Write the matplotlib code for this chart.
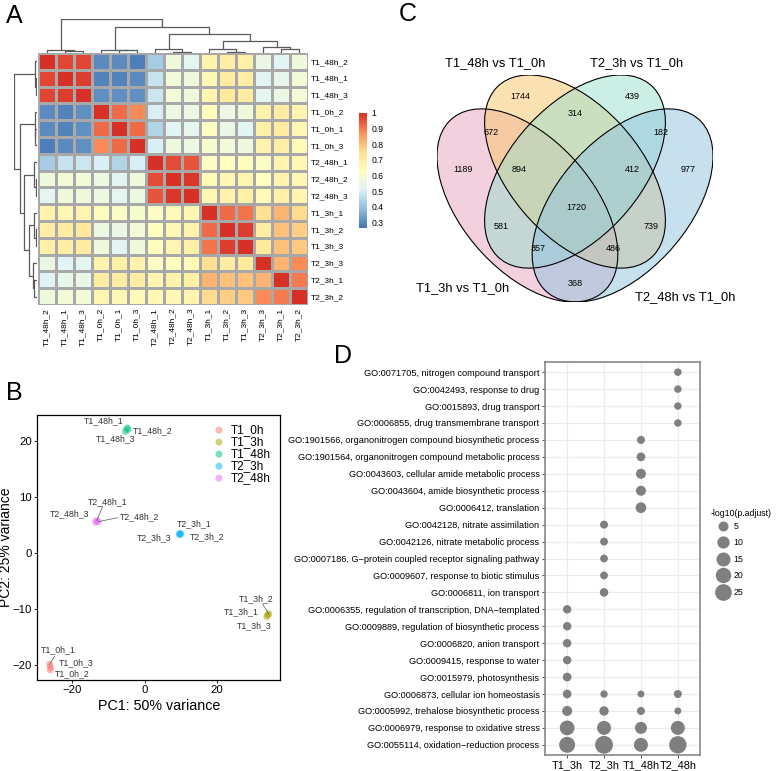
import numpy as np
import matplotlib.pyplot as plt
from matplotlib.patches import Ellipse
from matplotlib.colors import LinearSegmentedColormap
from matplotlib.lines import Line2D

W, H, DPI = 778, 771, 100
plt.rcParams['font.family'] = ['Liberation Sans', 'DejaVu Sans']

# ---------------- data ----------------
# A: sample correlation heatmap (display order of rows and columns)
samples = ['T1_48h_2', 'T1_48h_1', 'T1_48h_3', 'T1_0h_2', 'T1_0h_1', 'T1_0h_3',
           'T2_48h_1', 'T2_48h_2', 'T2_48h_3', 'T1_3h_1', 'T1_3h_2', 'T1_3h_3',
           'T2_3h_3', 'T2_3h_1', 'T2_3h_2']
corr = [
    [1.00, 0.97, 0.97, 0.30, 0.30, 0.28, 0.42, 0.57, 0.53, 0.68, 0.70, 0.69, 0.55, 0.52, 0.57],
    [0.97, 1.00, 0.98, 0.29, 0.29, 0.30, 0.47, 0.58, 0.57, 0.66, 0.71, 0.70, 0.52, 0.54, 0.58],
    [0.97, 0.98, 1.00, 0.31, 0.31, 0.31, 0.48, 0.58, 0.57, 0.67, 0.72, 0.71, 0.53, 0.55, 0.58],
    [0.30, 0.29, 0.31, 1.00, 0.92, 0.88, 0.50, 0.56, 0.56, 0.64, 0.56, 0.57, 0.68, 0.71, 0.67],
    [0.30, 0.29, 0.31, 0.92, 1.00, 0.92, 0.44, 0.52, 0.53, 0.62, 0.55, 0.52, 0.69, 0.71, 0.66],
    [0.28, 0.30, 0.31, 0.88, 0.92, 1.00, 0.50, 0.57, 0.56, 0.60, 0.58, 0.57, 0.68, 0.70, 0.65],
    [0.42, 0.47, 0.48, 0.50, 0.44, 0.50, 1.00, 0.96, 0.95, 0.62, 0.63, 0.64, 0.62, 0.67, 0.66],
    [0.57, 0.58, 0.58, 0.56, 0.52, 0.57, 0.96, 1.00, 0.99, 0.65, 0.66, 0.67, 0.63, 0.68, 0.66],
    [0.53, 0.57, 0.57, 0.56, 0.53, 0.56, 0.95, 0.99, 1.00, 0.66, 0.68, 0.69, 0.65, 0.69, 0.67],
    [0.68, 0.66, 0.67, 0.64, 0.62, 0.60, 0.62, 0.65, 0.66, 1.00, 0.92, 0.91, 0.75, 0.82, 0.76],
    [0.70, 0.71, 0.72, 0.56, 0.55, 0.58, 0.63, 0.66, 0.68, 0.92, 1.00, 0.98, 0.71, 0.80, 0.78],
    [0.69, 0.70, 0.71, 0.57, 0.52, 0.57, 0.64, 0.67, 0.69, 0.91, 0.98, 1.00, 0.72, 0.80, 0.79],
    [0.55, 0.52, 0.53, 0.68, 0.69, 0.68, 0.62, 0.63, 0.65, 0.75, 0.71, 0.72, 1.00, 0.82, 0.88],
    [0.52, 0.54, 0.55, 0.71, 0.71, 0.70, 0.67, 0.68, 0.69, 0.82, 0.80, 0.80, 0.82, 1.00, 0.90],
    [0.57, 0.58, 0.58, 0.67, 0.66, 0.65, 0.66, 0.66, 0.67, 0.76, 0.78, 0.79, 0.88, 0.90, 1.00],
]
# hierarchical clustering merges (child a, child b, height); ids >= 15 are earlier merges
merges = [(1, 2, 1.7), (0, 15, 2.7), (4, 5, 2.7), (3, 17, 3.3), (7, 8, 1.0), (6, 19, 4.3),
          (10, 11, 1.0), (9, 21, 4.3), (13, 14, 4.3), (12, 23, 6.0), (22, 24, 12.0),
          (20, 25, 19.3), (18, 26, 26.0), (16, 27, 34.3)]
cbar_ticks = [0.3, 0.4, 0.5, 0.6, 0.7, 0.8, 0.9, 1.0]

# B: PCA
groups = ['T1_0h', 'T1_3h', 'T1_48h', 'T2_3h', 'T2_48h']
group_colors = ['#F8766D', '#A3A500', '#00BF7D', '#00B0F6', '#E76BF3']
pca_names = ['T1_0h_1', 'T1_0h_2', 'T1_0h_3', 'T1_3h_1', 'T1_3h_2', 'T1_3h_3',
             'T1_48h_1', 'T1_48h_2', 'T1_48h_3', 'T2_3h_1', 'T2_3h_2', 'T2_3h_3',
             'T2_48h_1', 'T2_48h_2', 'T2_48h_3']
pca_group = [0, 0, 0, 1, 1, 1, 2, 2, 2, 3, 3, 3, 4, 4, 4]
pc1 = [-26.2, -26.0, -26.0, 34.0, 34.3, 33.8, -4.8, -4.6, -5.3, 9.8, 10.0, 9.6, -13.2, -12.8, -13.5]
pc2 = [-19.8, -20.8, -20.3, -11.0, -10.8, -11.3, 22.3, 22.0, 21.7, 3.5, 3.4, 3.3, 5.8, 5.6, 5.5]
# repelled label positions (data units)
lab_x = [-23.8, -19.9, -19.0, 26.8, 30.7, 30.2, -11.4, 2.3, -7.9, 13.7, 17.3, 2.6, -10.3, -1.5, -20.6]
lab_y = [-17.25, -21.5, -19.5, -10.5, -8.2, -13.0, 23.5, 21.8, 20.3, 5.3, 3.0, 2.75, 9.2, 6.5, 7.0]
# samples whose label is tied to the point by a segment: (index, segment start)
seg_from = [(0, -24.9, -18.4), (4, 32.6, -9.1), (12, -11.6, 8.3), (13, -7.5, 6.3)]

# C: Venn
venn_sets = ['T1_3h vs T1_0h', 'T1_48h vs T1_0h', 'T2_3h vs T1_0h', 'T2_48h vs T1_0h']
venn_fill = ['#E7A3BF', '#FBC569', '#99DFCD', '#91C3DF']
venn_counts = [1744, 439, 314, 672, 182, 1189, 894, 412, 977, 1720, 581, 739, 357, 486, 368]
venn_pos = [(0.327, 0.793), (0.680, 0.793), (0.500, 0.740), (0.235, 0.684), (0.772, 0.684),
            (0.147, 0.575), (0.324, 0.575), (0.680, 0.575), (0.857, 0.575), (0.503, 0.463),
            (0.267, 0.407), (0.740, 0.407), (0.384, 0.342), (0.620, 0.342), (0.500, 0.241)]

# D: GO enrichment dot plot, -log10(p.adjust) (nan = not enriched)
conditions = ['T1_3h', 'T2_3h', 'T1_48h', 'T2_48h']
go_terms = [
    'GO:0071705, nitrogen compound transport',
    'GO:0042493, response to drug',
    'GO:0015893, drug transport',
    'GO:0006855, drug transmembrane transport',
    'GO:1901566, organonitrogen compound biosynthetic process',
    'GO:1901564, organonitrogen compound metabolic process',
    'GO:0043603, cellular amide metabolic process',
    'GO:0043604, amide biosynthetic process',
    'GO:0006412, translation',
    'GO:0042128, nitrate assimilation',
    'GO:0042126, nitrate metabolic process',
    'GO:0007186, G\u2212protein coupled receptor signaling pathway',
    'GO:0009607, response to biotic stimulus',
    'GO:0006811, ion transport',
    'GO:0006355, regulation of transcription, DNA\u2212templated',
    'GO:0009889, regulation of biosynthetic process',
    'GO:0006820, anion transport',
    'GO:0009415, response to water',
    'GO:0015979, photosynthesis',
    'GO:0006873, cellular ion homeostasis',
    'GO:0005992, trehalose biosynthetic process',
    'GO:0006979, response to oxidative stress',
    'GO:0055114, oxidation\u2212reduction process',
]
n = np.nan
enrich = [
    [n, n, n, 1.4], [n, n, n, 1.4], [n, n, n, 1.4], [n, n, n, 1.4],
    [n, n, 2.0, n], [n, n, 2.9, n], [n, n, 5.0, n], [n, n, 5.0, n], [n, n, 6.3, n],
    [n, 2.0, n, n], [n, 1.8, n, n], [n, 1.7, n, n], [n, 1.8, n, n], [n, 2.6, n, n],
    [2.5, n, n, n], [2.5, n, n, n], [2.5, n, n, n], [2.5, n, n, n], [2.9, n, n, n],
    [2.9, 1.3, 0.9, 2.0],
    [5.0, 3.9, 2.0, 0.9],
    [17.5, 15.0, 9.4, 15.0],
    [22.0, 30.0, 15.0, 28.0],
]
size_breaks = [5, 10, 15, 20, 25]


def box(x0, y0, x1, y1):
    return [x0 / W, 1 - y1 / H, (x1 - x0) / W, (y1 - y0) / H]


def fx(x):
    return x / W


def fy(y):
    return 1 - y / H


def dendro_segments(merges, leaf_pos):
    pos = {i: p for i, p in enumerate(leaf_pos)}
    hgt = {i: 0.0 for i in range(len(leaf_pos))}
    segs = []
    for k, (a, b, h) in enumerate(merges):
        segs.append(([pos[a], pos[a], pos[b], pos[b]], [hgt[a], h, h, hgt[b]]))
        pos[len(leaf_pos) + k] = (pos[a] + pos[b]) / 2
        hgt[len(leaf_pos) + k] = h
    return segs


fig = plt.figure(figsize=(W / DPI, H / DPI), dpi=DPI)

# ---------------- A: heatmap ----------------
cmap = LinearSegmentedColormap.from_list(
    'rdylbu', ['#4575B4', '#91BFDB', '#E0F3F8', '#FFFFBF', '#FEE090', '#FC8D59', '#D73027'])
vmin, vmax = 0.265, 1.0
nS = len(samples)
axh = fig.add_axes(box(38, 53, 308, 305))
axh.pcolormesh(np.arange(nS + 1), np.arange(nS + 1), np.array(corr), cmap=cmap,
               vmin=vmin, vmax=vmax, edgecolors='#A8A8A8', linewidth=0.8)
axh.set_xlim(0, nS)
axh.set_ylim(nS, 0)
for s in axh.spines.values():
    s.set_visible(False)
axh.set_xticks(np.arange(nS) + 0.5)
axh.set_xticklabels(samples, rotation=90, fontsize=6.0)
axh.set_yticks(np.arange(nS) + 0.5)
axh.set_yticklabels(samples, fontsize=6.0)
axh.yaxis.tick_right()
axh.tick_params(length=0, pad=2)

segs = dendro_segments(merges, list(np.arange(nS) + 0.5))
axc = fig.add_axes(box(38, 19, 308, 53))
axr = fig.add_axes(box(14, 53, 37, 305))
for xs, ys in segs:
    axc.plot(xs, ys, color='#5A5A5A', lw=0.9, solid_capstyle='butt')
    axr.plot(ys, xs, color='#5A5A5A', lw=0.9, solid_capstyle='butt')
axc.set_xlim(0, nS)
axc.set_ylim(0, 34.6)
axr.set_ylim(nS, 0)
axr.set_xlim(34.6, 0)
for a in (axc, axr):
    a.axis('off')

axcb = fig.add_axes(box(359, 113, 367, 228))
grad = np.linspace(vmin, vmax, 200).reshape(-1, 1)
axcb.imshow(grad, cmap=cmap, vmin=vmin, vmax=vmax, aspect='auto', origin='lower',
            extent=[0, 1, vmin, vmax])
axcb.set_xticks([])
axcb.yaxis.tick_right()
axcb.set_yticks(cbar_ticks)
axcb.set_yticklabels([f'{t:g}' for t in cbar_ticks], fontsize=6.2)
axcb.tick_params(length=0, pad=3)
for s in axcb.spines.values():
    s.set_visible(False)

# ---------------- B: PCA ----------------
axp = fig.add_axes(box(37, 415, 280, 680))
for g, (name, col) in enumerate(zip(groups, group_colors)):
    idx = [i for i, k in enumerate(pca_group) if k == g]
    axp.scatter([pc1[i] for i in idx], [pc2[i] for i in idx], s=26, color=col,
                alpha=0.5, edgecolors='none', label=name)
for i, sx, sy in seg_from:
    axp.plot([sx, pc1[i]], [sy, pc2[i]], color='#555555', lw=0.5)
for i, name in enumerate(pca_names):
    axp.text(lab_x[i], lab_y[i], name, fontsize=6.3, ha='center', va='center', color='#333333')
axp.set_xlim(-29.7, 37.4)
axp.set_ylim(-22.6, 24.6)
axp.set_xticks([-20, 0, 20])
axp.set_yticks([-20, -10, 0, 10, 20])
axp.tick_params(labelsize=8.2, length=2.5, width=0.6, pad=1)
for s in axp.spines.values():
    s.set_linewidth(0.9)
axp.set_xlabel('PC1: 50% variance', fontsize=10.3)
axp.set_ylabel('PC2: 25% variance', fontsize=10.0)
axp.xaxis.set_label_coords(0.501, -0.07)
axp.yaxis.set_label_coords(-0.1, 0.5)
leg = axp.legend(loc='upper left', bbox_to_anchor=(0.71, 0.965), frameon=False,
                 fontsize=8.5, labelspacing=0.0, handletextpad=0.2, handlelength=1.6,
                 borderpad=0, borderaxespad=0, markerscale=1.0)

# ---------------- C: Venn ----------------
axv = fig.add_axes(box(437, 75, 713, 302))
axv.set_xlim(0.065, 0.935)
axv.set_ylim(0.185, 0.855)
axv.axis('off')
ell_geom = [(0.35, 0.47, 135), (0.50, 0.57, 135), (0.50, 0.57, 45), (0.65, 0.47, 45)]
for (cx, cy, ang), col in zip(ell_geom, venn_fill):
    axv.add_patch(Ellipse((cx, cy), 0.70, 0.40, angle=ang, facecolor=col, alpha=0.5,
                          edgecolor='none'))
for (cx, cy, ang) in ell_geom:
    axv.add_patch(Ellipse((cx, cy), 0.70, 0.40, angle=ang, facecolor='none',
                          edgecolor='black', lw=0.8))
for c, (x, y) in zip(venn_counts, venn_pos):
    axv.text(x, y, str(c), fontsize=6.5, ha='center', va='center')
set_lab_px = [(463, 288), (495, 63), (637, 63), (685, 297)]
for name, (x, y) in zip(venn_sets, set_lab_px):
    fig.text(fx(x), fy(y), name, fontsize=9.3, ha='center', va='center')

# ---------------- D: GO dot plot ----------------
def dot_area(v):
    d_px = 4.6 + 2.42 * np.sqrt(v)
    return (d_px * 72 / DPI) ** 2


axd = fig.add_axes(box(545, 362, 700, 755))
ev = np.array(enrich)
rows, cols = np.where(~np.isnan(ev))
axd.set_axisbelow(True)
axd.grid(True, color='#EBEBEB', lw=0.8)
axd.scatter(cols + 1, rows, s=dot_area(ev[rows, cols]), color='#7F7F7F', edgecolors='none',
            zorder=3)
axd.set_xlim(0.4, len(conditions) + 0.6)
axd.set_ylim(len(go_terms) - 0.4, -0.6)
axd.set_xticks(np.arange(1, len(conditions) + 1))
axd.set_xticklabels(conditions, fontsize=7.8)
axd.set_yticks(np.arange(len(go_terms)))
axd.set_yticklabels(go_terms, fontsize=6.6)
axd.tick_params(length=2.5, width=0.6, color='#333333', pad=1.5)
axd.tick_params(axis='x', pad=1)
for s in axd.spines.values():
    s.set_color('#7F7F7F')
    s.set_linewidth(1.1)
handles = [Line2D([], [], ls='none', marker='o', color='#7F7F7F', markeredgewidth=0,
                  markersize=(4.6 + 2.42 * np.sqrt(v)) * 72 / DPI) for v in size_breaks]
fig.text(fx(711), fy(513), '-log10(p.adjust)', fontsize=6.3, ha='left', va='center')
fig.legend(handles, [str(v) for v in size_breaks],
           loc='upper left', bbox_to_anchor=(fx(716), fy(522)), frameon=False,
           fontsize=6.3, labelspacing=0.85, handlelength=1.6,
           handletextpad=0.4, borderpad=0, borderaxespad=0)

# ---------------- panel letters ----------------
for letter, (x, y) in zip('ABCD', [(6, 4), (6, 381), (399, 2), (334, 344)]):
    fig.text(fx(x), fy(y), letter, fontsize=18, ha='left', va='top')

fig.savefig('out.png', dpi=DPI)
